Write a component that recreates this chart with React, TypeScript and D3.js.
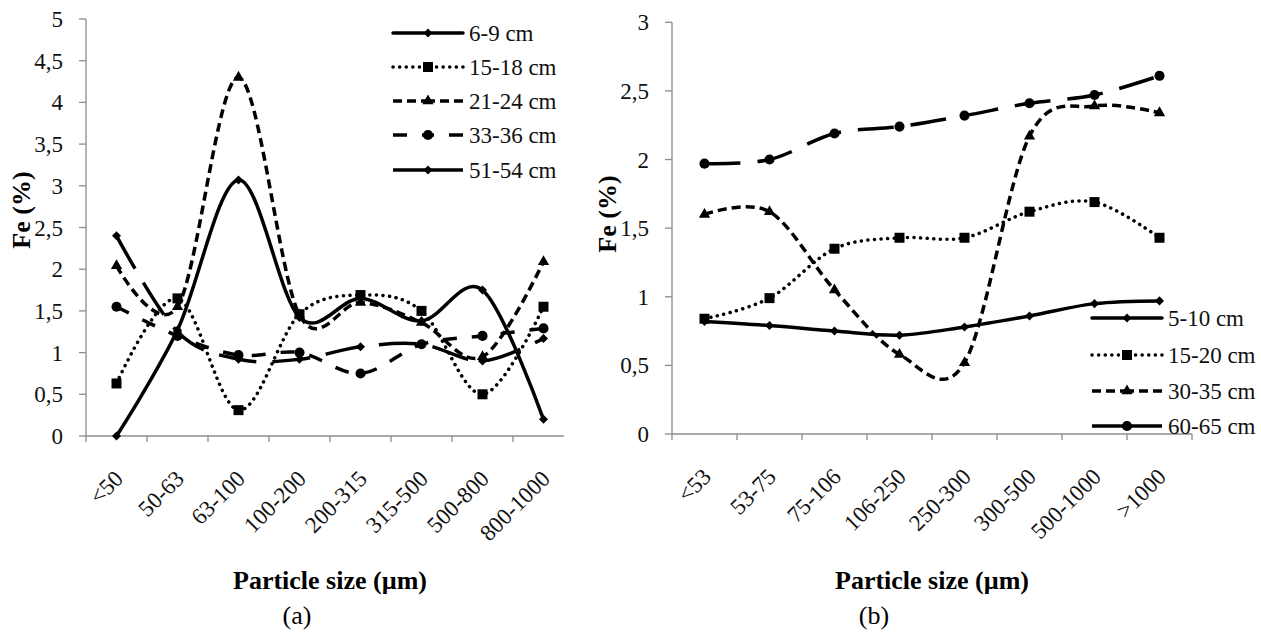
import React from 'react';
import * as d3 from 'd3';

// ---------- Data: panel (a) ----------
const catsA = ['<50', '50-63', '63-100', '100-200', '200-315', '315-500', '500-800', '800-1000'];
const namesA = ['6-9 cm', '15-18 cm', '21-24 cm', '33-36 cm', '51-54 cm'];
const a_6_9 = [0, 1.27, 3.07, 1.42, 1.65, 1.38, 1.75, 0.2];
const a_15_18 = [0.63, 1.65, 0.31, 1.46, 1.69, 1.5, 0.5, 1.55];
const a_21_24 = [2.04, 1.55, 4.3, 1.45, 1.6, 1.36, 0.95, 2.09];
const a_33_36 = [1.55, 1.2, 0.97, 1.0, 0.75, 1.1, 1.2, 1.29];
const a_51_54 = [2.4, 1.25, 0.92, 0.92, 1.07, 1.1, 0.9, 1.17];
const yTicksA = [0, 0.5, 1, 1.5, 2, 2.5, 3, 3.5, 4, 4.5, 5];

// ---------- Data: panel (b) ----------
const catsB = ['<53', '53-75', '75-106', '106-250', '250-300', '300-500', '500-1000', '>1000'];
const namesB = ['5-10 cm', '15-20 cm', '30-35 cm', '60-65 cm'];
const b_5_10 = [0.82, 0.79, 0.75, 0.72, 0.78, 0.86, 0.95, 0.97];
const b_15_20 = [0.84, 0.99, 1.35, 1.43, 1.43, 1.62, 1.69, 1.43];
const b_30_35 = [1.6, 1.62, 1.05, 0.58, 0.52, 2.17, 2.39, 2.34];
const b_60_65 = [1.97, 2.0, 2.19, 2.24, 2.32, 2.41, 2.47, 2.61];
const yTicksB = [0, 0.5, 1, 1.5, 2, 2.5, 3];

const xTitle = 'Particle size (µm)';
const yTitle = 'Fe (%)';

// ---------- Styles ----------
const FONT = '"Liberation Serif", "Times New Roman", Times, serif';
const AXIS = '#8c8c8c';
type Sty = { dash: string | null; cap: string; sym: any; size: number };
const SOLID: Sty = { dash: null, cap: 'round', sym: d3.symbolDiamond2, size: 52 };
const DOT: Sty = { dash: '0.1,6.5', cap: 'round', sym: d3.symbolSquare, size: 100 };
const DASH: Sty = { dash: '9,5', cap: 'butt', sym: d3.symbolTriangle, size: 55 };
const WIDEDASH: Sty = { dash: '14,15', cap: 'butt', sym: d3.symbolCircle, size: 80 };
const LONGDASH_D: Sty = { dash: '38,16', cap: 'butt', sym: d3.symbolDiamond2, size: 52 };
const LONGDASH_C: Sty = { dash: '36,17', cap: 'butt', sym: d3.symbolCircle, size: 80 };

const stylesA = [SOLID, DOT, DASH, WIDEDASH, LONGDASH_D];
const stylesB = [SOLID, DOT, DASH, LONGDASH_C];
const dataA = [a_6_9, a_15_18, a_21_24, a_33_36, a_51_54];
const dataB = [b_5_10, b_15_20, b_30_35, b_60_65];

const fmt = (v: number) => String(v).replace('.', ',');

type PanelProps = {
  cats: string[];
  names: string[];
  data: number[][];
  styles: Sty[];
  yTicks: number[];
  yMax: number;
  x0: number; x1: number; yTop: number; yBot: number;
  legendX: number; legendY: number[];
  yLabelX: number; yLabelY: number;
  letter: string; letterX: number; letterY: number; titleY: number;
  axisEnd?: number;
};

function Panel(p: PanelProps) {
  const x = d3.scaleBand<string>().domain(p.cats).range([p.x0, p.x1]).padding(0);
  const y = d3.scaleLinear().domain([0, p.yMax]).range([p.yBot, p.yTop]);
  const cx = (c: string) => (x(c) as number) + x.bandwidth() / 2;
  const line = d3
    .line<number>()
    .x((_, i) => cx(p.cats[i]))
    .y((d) => y(d))
    .curve(d3.curveCatmullRom.alpha(0));
  const bounds = p.cats.map((c) => x(c) as number).concat([p.x1]);
  const midX = (p.x0 + p.x1) / 2;
  const lw = 3.5;
  return (
    <g>
      {/* axes */}
      <line x1={p.x0} x2={p.x0} y1={p.yBot} y2={y(p.yMax)} stroke={AXIS} strokeWidth={1.3} />
      {p.yTicks.map((t) => (
        <g key={'yt' + t}>
          <line x1={p.x0 - 7} x2={p.x0} y1={y(t)} y2={y(t)} stroke={AXIS} strokeWidth={1.3} />
          <text x={p.x0 - 23} y={y(t)} dy="0.35em" textAnchor="end" fontSize={23} fontFamily={FONT} fill="#111">
            {fmt(t)}
          </text>
        </g>
      ))}
      <line x1={p.x0} x2={p.axisEnd ?? p.x1} y1={p.yBot} y2={p.yBot} stroke={AXIS} strokeWidth={1.3} />
      {bounds.map((b, i) => (
        <line key={'xt' + i} x1={b} x2={b} y1={p.yBot} y2={p.yBot + 6} stroke={AXIS} strokeWidth={1.3} />
      ))}
      {p.cats.map((c) => (
        <text
          key={'xl' + c}
          transform={`translate(${cx(c) + 8},${p.yBot + 44}) rotate(-45)`}
          textAnchor="end"
          fontSize={23}
          fontFamily={FONT}
          fill="#111"
        >
          {c}
        </text>
      ))}
      {/* series */}
      {p.data.map((vals, si) => {
        const s = p.styles[si];
        return (
          <g key={'s' + si}>
            <path
              d={line(vals) || ''}
              fill="none"
              stroke="#000"
              strokeWidth={lw}
              strokeDasharray={s.dash || undefined}
              strokeLinecap={s.cap as any}
              strokeLinejoin="round"
            />
            {vals.map((v, i) => (
              <path
                key={i}
                d={d3.symbol().type(s.sym).size(s.size)() || ''}
                transform={`translate(${cx(p.cats[i])},${y(v)})`}
                fill="#000"
              />
            ))}
          </g>
        );
      })}
      {/* legend */}
      {p.names.map((n, i) => {
        const s = p.styles[i];
        const ly = p.legendY[i];
        const lx = p.legendX;
        return (
          <g key={'lg' + n}>
            {[0, 1].map((h) => (
              <line
                key={h}
                x1={h === 0 ? lx : lx + 70}
                x2={lx + 35}
                y1={ly}
                y2={ly}
                stroke="#000"
                strokeWidth={lw}
                strokeDasharray={s.dash || undefined}
                strokeLinecap={s.cap as any}
              />
            ))}
            <path d={d3.symbol().type(s.sym).size(s.size)() || ''} transform={`translate(${lx + 35},${ly})`} fill="#000" />
            <text x={lx + 76} y={ly} dy="0.35em" fontSize={23} fontFamily={FONT} fill="#111">
              {n}
            </text>
          </g>
        );
      })}
      {/* titles */}
      <text
        transform={`translate(${p.yLabelX},${p.yLabelY}) rotate(-90)`}
        textAnchor="middle"
        dy="0.35em"
        fontSize={26}
        fontWeight="bold"
        fontFamily={FONT}
        fill="#000"
      >
        {yTitle}
      </text>
      <text x={midX} y={p.titleY} textAnchor="middle" fontSize={26} fontWeight="bold" fontFamily={FONT} fill="#000">
        {xTitle}
      </text>
      <text x={p.letterX} y={p.letterY} textAnchor="middle" fontSize={26} fontFamily={FONT} fill="#000">
        {p.letter}
      </text>
    </g>
  );
}

export default function App() {
  return (
    <svg
      width={1261}
      height={637}
      style={{ position: 'absolute', left: 0, top: 0, background: '#fff' }}
    >
      <rect x={0} y={0} width={1261} height={637} fill="#fff" />
      <Panel
        cats={catsA}
        names={namesA}
        data={dataA}
        styles={stylesA}
        yTicks={yTicksA}
        yMax={5}
        x0={86}
        x1={574}
        yTop={19}
        yBot={436}
        legendX={393}
        legendY={[33, 67, 101, 135, 170]}
        yLabelX={21}
        yLabelY={210}
        letter="(a)"
        letterX={297}
        letterY={624}
        titleY={589}
        axisEnd={564}
      />
      <rect x={564} y={0} width={697} height={637} fill="#fff" />
      <Panel
        cats={catsB}
        names={namesB}
        data={dataB}
        styles={stylesB}
        yTicks={yTicksB}
        yMax={3}
        x0={672}
        x1={1192}
        yTop={22.3}
        yBot={434}
        legendX={1092}
        legendY={[318, 355, 391, 426]}
        yLabelX={607}
        yLabelY={214}
        letter="(b)"
        letterX={874}
        letterY={624}
        titleY={589}
      />
    </svg>
  );
}
